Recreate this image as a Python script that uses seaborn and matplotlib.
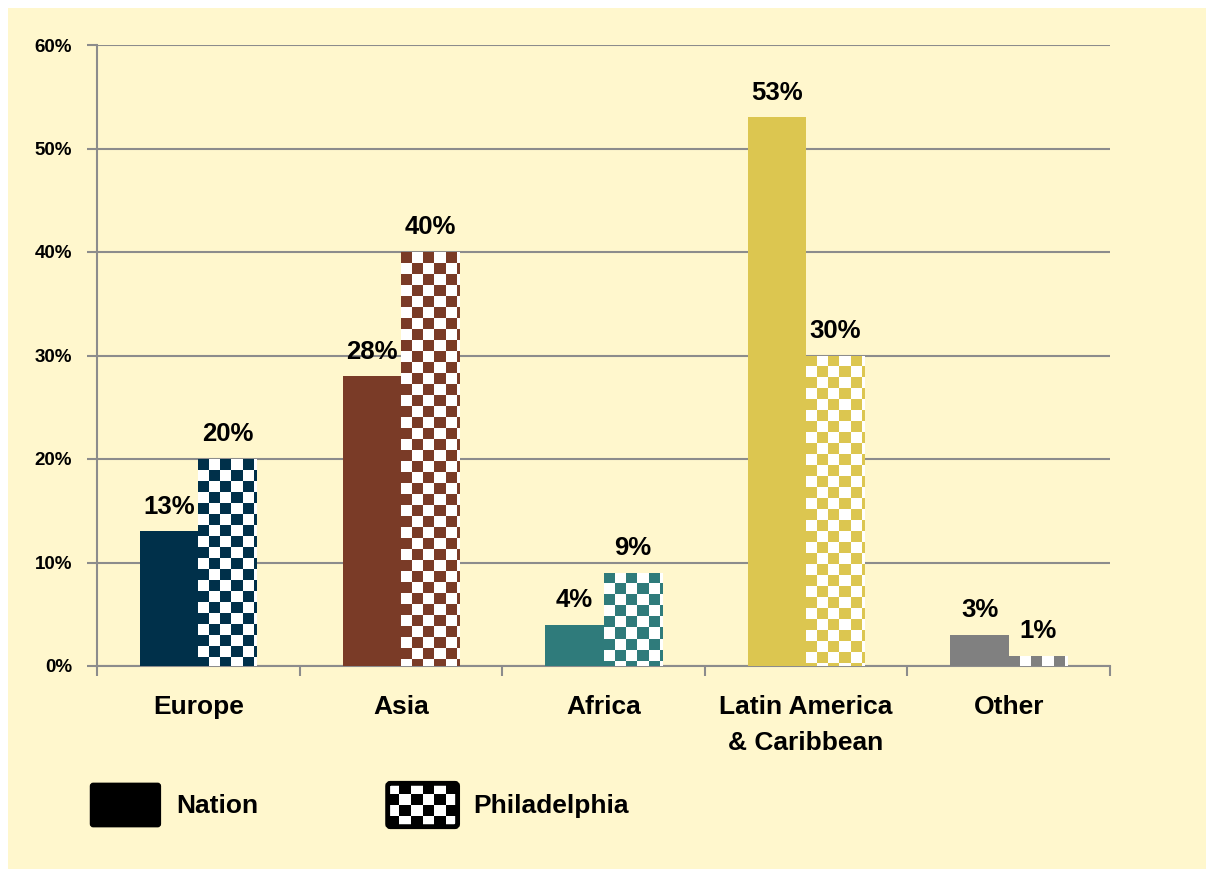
import numpy as np
import pandas as pd
import seaborn as sns
import matplotlib
matplotlib.use("Agg")
import matplotlib.pyplot as plt
from matplotlib import font_manager
from matplotlib.patches import Rectangle, Patch, FancyBboxPatch
from matplotlib.legend_handler import HandlerBase

# Data: share of foreign-born population by region of birth (%)
regions = ["Europe", "Asia", "Africa", "Latin America\n& Caribbean", "Other"]
nation = [13, 28, 4, 53, 3]
philadelphia = [20, 40, 9, 30, 1]
series_names = ["Nation", "Philadelphia"]
region_colors = ["#00304A", "#7A3B27", "#2F7B7B", "#DCC650", "#808080"]
y_ticks = [0, 10, 20, 30, 40, 50, 60]

BG = "#FFF7CD"
GRID = "#8C8C8C"

sns.set_theme(style="white")
available = {f.name for f in font_manager.fontManager.ttflist}
family = "Liberation Sans Narrow" if "Liberation Sans Narrow" in available else "Liberation Sans"
plt.rcParams["font.family"] = [family, "DejaVu Sans"]
plt.rcParams["font.weight"] = "bold"
plt.rcParams["text.color"] = "black"
plt.rcParams["xtick.color"] = "black"
plt.rcParams["ytick.color"] = "black"
plt.rcParams["xtick.labelcolor"] = "black"
plt.rcParams["ytick.labelcolor"] = "black"

W, H, DPI = 1206, 869, 100
fig = plt.figure(figsize=(W / DPI, H / DPI), dpi=DPI, facecolor="white")
# pale yellow panel behind everything
fig.patches.append(Rectangle((8 / W, 0), 1 - 8 / W, 1 - 8 / H, transform=fig.transFigure,
                             facecolor=BG, edgecolor="none", zorder=-10))

left, right, top, bottom = 97, 1110, 45, 666
ax = fig.add_axes([left / W, 1 - bottom / H, (right - left) / W, (bottom - top) / H])
ax.set_facecolor("none")

df = pd.DataFrame({
    "region": regions * 2,
    "share": nation + philadelphia,
    "series": [series_names[0]] * len(regions) + [series_names[1]] * len(regions),
})

sns.barplot(data=df, x="region", y="share", hue="series", order=regions,
            hue_order=series_names, width=0.575, dodge=True, gap=0,
            palette=["black", "white"], edgecolor="none", linewidth=0,
            legend=False, ax=ax, zorder=3)

ax.set_xlim(-0.5, len(regions) - 0.5)
ax.set_ylim(0, 60)

# colour each bar by its region; checkerboard for Philadelphia bars
px_per_x = (right - left) / len(regions)
px_per_y = (bottom - top) / 60.0
cell_px = 11.0
cw = cell_px / px_per_x
ch = cell_px / px_per_y
nat_bars, phl_bars = ax.containers[0], ax.containers[1]
for i, bar in enumerate(nat_bars):
    bar.set_facecolor(region_colors[i])
for i, bar in enumerate(phl_bars):
    bar.set_facecolor("white")
    x0 = bar.get_x()
    h = bar.get_height()
    ncol = int(np.ceil(bar.get_width() / cw)) + 1
    nrow = int(np.ceil(h / ch)) + 1
    rgb = np.array(matplotlib.colors.to_rgb(region_colors[i]))
    img = np.ones((nrow, ncol, 3))
    jj, ii = np.meshgrid(np.arange(ncol), np.arange(nrow))
    img[(ii + jj) % 2 == 0] = rgb
    im = ax.imshow(img, extent=(x0, x0 + ncol * cw, h - nrow * ch, h), origin="upper",
                   interpolation="nearest", aspect="auto", zorder=3.5)
    im.set_clip_path(bar)

ax.set_xlim(-0.5, len(regions) - 0.5)
ax.set_ylim(0, 60)

# value labels
for cont, vals in ((nat_bars, nation), (phl_bars, philadelphia)):
    for bar, v in zip(cont, vals):
        ax.annotate(f"{v}%", (bar.get_x() + bar.get_width() / 2, bar.get_height()),
                    xytext=(0, 9), textcoords="offset points", ha="center", va="bottom",
                    fontsize=18.5, fontweight="bold", color="black", zorder=5)

# axes styling
ax.set_yticks(y_ticks)
ax.set_yticklabels([f"{t}%" for t in y_ticks], fontsize=13.5, fontweight="bold", color="black")
ax.yaxis.grid(True, color=GRID, linewidth=1.5, zorder=0)
ax.set_axisbelow(True)
ax.tick_params(axis="y", length=7, width=1.5, color=GRID, pad=11, left=True)
ax.set_xticks(np.arange(len(regions)))
ax.set_xticklabels(regions, fontsize=19, fontweight="bold", linespacing=1.6, color="black")
ax.tick_params(axis="x", which="major", length=0, pad=21)
ax.set_xticks(np.arange(len(regions) + 1) - 0.5, minor=True)
ax.tick_params(axis="x", which="minor", length=7, width=1.5, color=GRID, bottom=True)
for lbl in ax.get_xticklabels():
    lbl.set_verticalalignment("top")
ax.set_xlabel("")
ax.set_ylabel("")
for s in ("top", "right"):
    ax.spines[s].set_visible(False)
for s in ("left", "bottom"):
    ax.spines[s].set_color(GRID)
    ax.spines[s].set_linewidth(1.5)


class SolidHandler(HandlerBase):
    def create_artists(self, legend, orig_handle, xdescent, ydescent, width, height, fontsize, trans):
        r = FancyBboxPatch((-xdescent, -ydescent), width, height,
                           boxstyle="round,pad=0,rounding_size=2",
                           facecolor="black", edgecolor="black", lw=1, transform=trans)
        return [r]


class CheckerHandler(HandlerBase):
    def create_artists(self, legend, orig_handle, xdescent, ydescent, width, height, fontsize, trans):
        arts = [FancyBboxPatch((-xdescent, -ydescent), width, height,
                               boxstyle="round,pad=0,rounding_size=2",
                               facecolor="white", edgecolor="black", lw=3.5, transform=trans)]
        nx, ny = 6, 4
        dx, dy = width / nx, height / ny
        for a in range(nx):
            for b in range(ny):
                if (a + b) % 2 == 0:
                    arts.append(Rectangle((-xdescent + a * dx, -ydescent + b * dy), dx, dy,
                                          facecolor="black", edgecolor="none", transform=trans))
        return arts


h_nat = Patch(facecolor="black", label=series_names[0])
h_phl = Patch(facecolor="white", label=series_names[1])
leg = fig.legend(handles=[h_nat, h_phl], labels=series_names,
                 handler_map={h_nat: SolidHandler(), h_phl: CheckerHandler()},
                 loc="center left", bbox_to_anchor=(72 / W, 1 - 805 / H), ncol=2, frameon=False,
                 handlelength=2.65, handleheight=2.15, handletextpad=0.6,
                 columnspacing=4.9, borderpad=0.2, prop={"weight": "bold", "size": 19})
for t in leg.get_texts():
    t.set_color("black")

fig.savefig("out.png", dpi=DPI, facecolor="white")
